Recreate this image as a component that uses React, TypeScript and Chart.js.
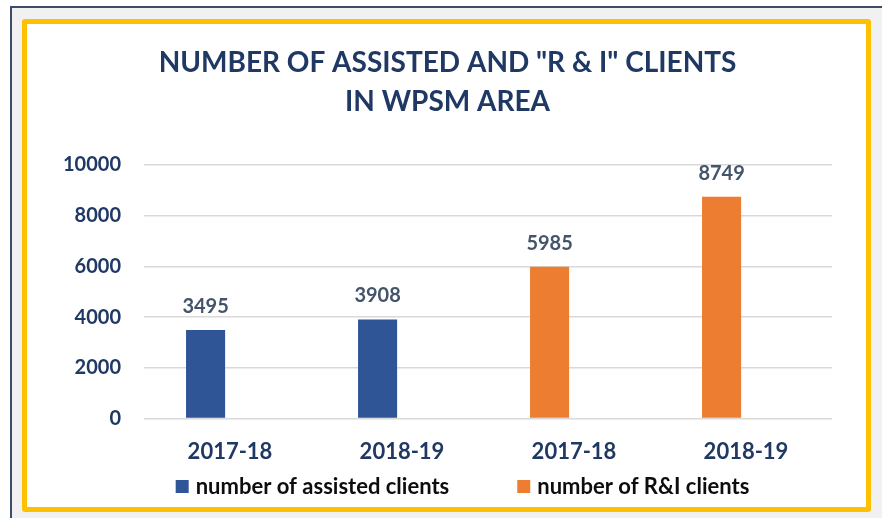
import React, { useEffect, useRef } from "react";
import { Chart, registerables } from "chart.js";

Chart.register(...registerables);

// ---- data ----
const categories = ["2017-18", "2018-19", "2017-18", "2018-19"];
const assistedClients: (number | null)[] = [3495, 3908, null, null];
const riClients: (number | null)[] = [null, null, 5985, 8749];
const seriesNames = ["number of assisted clients", "number of R&I clients"];
const titleLines = ['NUMBER OF ASSISTED AND "R & I" CLIENTS', "IN WPSM AREA"];
const yTicks = [0, 2000, 4000, 6000, 8000, 10000];

// ---- styles ----
const FONT = "Lato, 'Liberation Sans', sans-serif";
const BLUE = "#2f5597";
const ORANGE = "#ed7d31";
const NAVY = "#1f3864";
const LABEL_GREY = "#44546a";
const CANVAS_W = 839;
const CANVAS_H = 483;
const LEGEND_SHIFT = 16;
const LEGEND_BOTTOM = 20.5;
const LEGEND_GAP = 68;
const LEGEND_FONT = 22;
const Y_TICK_PAD = 23;

const valueLabels = {
  id: "valueLabels",
  afterDatasetsDraw(chart: any) {
    const { ctx } = chart;
    ctx.save();
    ctx.font = `bold 20px ${FONT}`;
    ctx.fillStyle = LABEL_GREY;
    ctx.textAlign = "center";
    ctx.textBaseline = "alphabetic";
    chart.data.datasets.forEach((ds: any, di: number) => {
      const meta = chart.getDatasetMeta(di);
      meta.data.forEach((el: any, i: number) => {
        const v = ds.data[i];
        if (v == null || !isFinite(el.x) || !isFinite(el.y)) return;
        ctx.fillText(String(v), el.x, el.y - 17);
      });
    });
    ctx.restore();
  },
};

const bottomLegend = {
  id: "bottomLegend",
  afterDraw(chart: any) {
    const { ctx } = chart;
    const items = chart.data.datasets.filter((d: any) => d.label);
    ctx.save();
    ctx.font = `bold ${LEGEND_FONT}px ${FONT}`;
    const box = 13;
    const textGap = 7;
    const widths = items.map((d: any) => box + textGap + ctx.measureText(d.label).width);
    const total = widths.reduce((a: number, b: number) => a + b, 0) + LEGEND_GAP * (items.length - 1);
    let x = chart.width / 2 + LEGEND_SHIFT - total / 2;
    const y = chart.height - LEGEND_BOTTOM;
    items.forEach((d: any, i: number) => {
      ctx.fillStyle = d.backgroundColor;
      ctx.fillRect(x, y - box / 2, box, box);
      ctx.fillStyle = "#0d0d0d";
      ctx.textAlign = "left";
      ctx.textBaseline = "middle";
      ctx.fillText(d.label, x + box + textGap, y);
      x += widths[i] + LEGEND_GAP;
    });
    ctx.restore();
  },
};

function BarChart() {
  const ref = useRef<HTMLCanvasElement | null>(null);
  useEffect(() => {
    if (!ref.current) return;
    const chart = new Chart(ref.current, {
      type: "bar",
      data: {
        labels: categories,
        datasets: [
          {
            label: seriesNames[0],
            data: assistedClients,
            backgroundColor: BLUE,
            stack: "main",
          },
          {
            label: seriesNames[1],
            data: riClients,
            backgroundColor: ORANGE,
            stack: "main",
          },
          {
            label: "",
            data: categories.map(() => null),
            backgroundColor: "rgba(0,0,0,0)",
            stack: "spacer",
          },
        ] as any,
      },
      options: {
        responsive: false,
        animation: false,
        events: [],
        categoryPercentage: 0.568,
        barPercentage: 0.8,
        layout: { padding: { left: 36, right: 34, top: 0, bottom: 22 } },
        plugins: {
          legend: { display: false },
          tooltip: { enabled: false },
          title: {
            display: true,
            text: titleLines,
            color: NAVY,
            font: { family: FONT, size: 28, weight: "bold", lineHeight: "39px" } as any,
            padding: { top: 19, bottom: 44 },
          },
        },
        scales: {
          x: {
            grid: { display: false, drawTicks: false },
            border: { display: false },
            ticks: {
              color: NAVY,
              font: { family: FONT, size: 22, weight: "bold" },
              padding: 20,
            },
          },
          y: {
            min: yTicks[0],
            max: yTicks[yTicks.length - 1],
            grid: { color: "#d9d9d9", lineWidth: 1.5, drawTicks: false },
            border: { display: false },
            afterFit: (scale: any) => {
              scale.width = scale.width - Y_TICK_PAD;
            },
            ticks: {
              stepSize: yTicks[1] - yTicks[0],
              color: NAVY,
              font: { family: FONT, size: 20, weight: "bold" },
              padding: Y_TICK_PAD,
              callback: (v: any) => String(v),
            },
          },
        },
      } as any,
      plugins: [valueLabels, bottomLegend],
    });
    return () => chart.destroy();
  }, []);
  return <canvas ref={ref} width={CANVAS_W} height={CANVAS_H} style={{ width: CANVAS_W, height: CANVAS_H, display: "block" }} />;
}

export default function App() {
  return (
    <div style={{ position: "fixed", inset: 0, background: "#ffffff", overflow: "hidden" }}>
      <div
        style={{
          position: "absolute",
          left: 10,
          top: 6,
          right: -10,
          bottom: -10,
          background: "#f1f1f1",
          borderTop: "2px solid #3b4d6b",
          borderLeft: "2px solid #3b4d6b",
        }}
      />
      <div
        style={{
          position: "absolute",
          left: 22,
          top: 19,
          width: 849,
          height: 493,
          boxSizing: "border-box",
          border: "5px solid #ffc000",
          borderRadius: 3,
          background: "#ffffff",
        }}
      >
        <BarChart />
      </div>
    </div>
  );
}
